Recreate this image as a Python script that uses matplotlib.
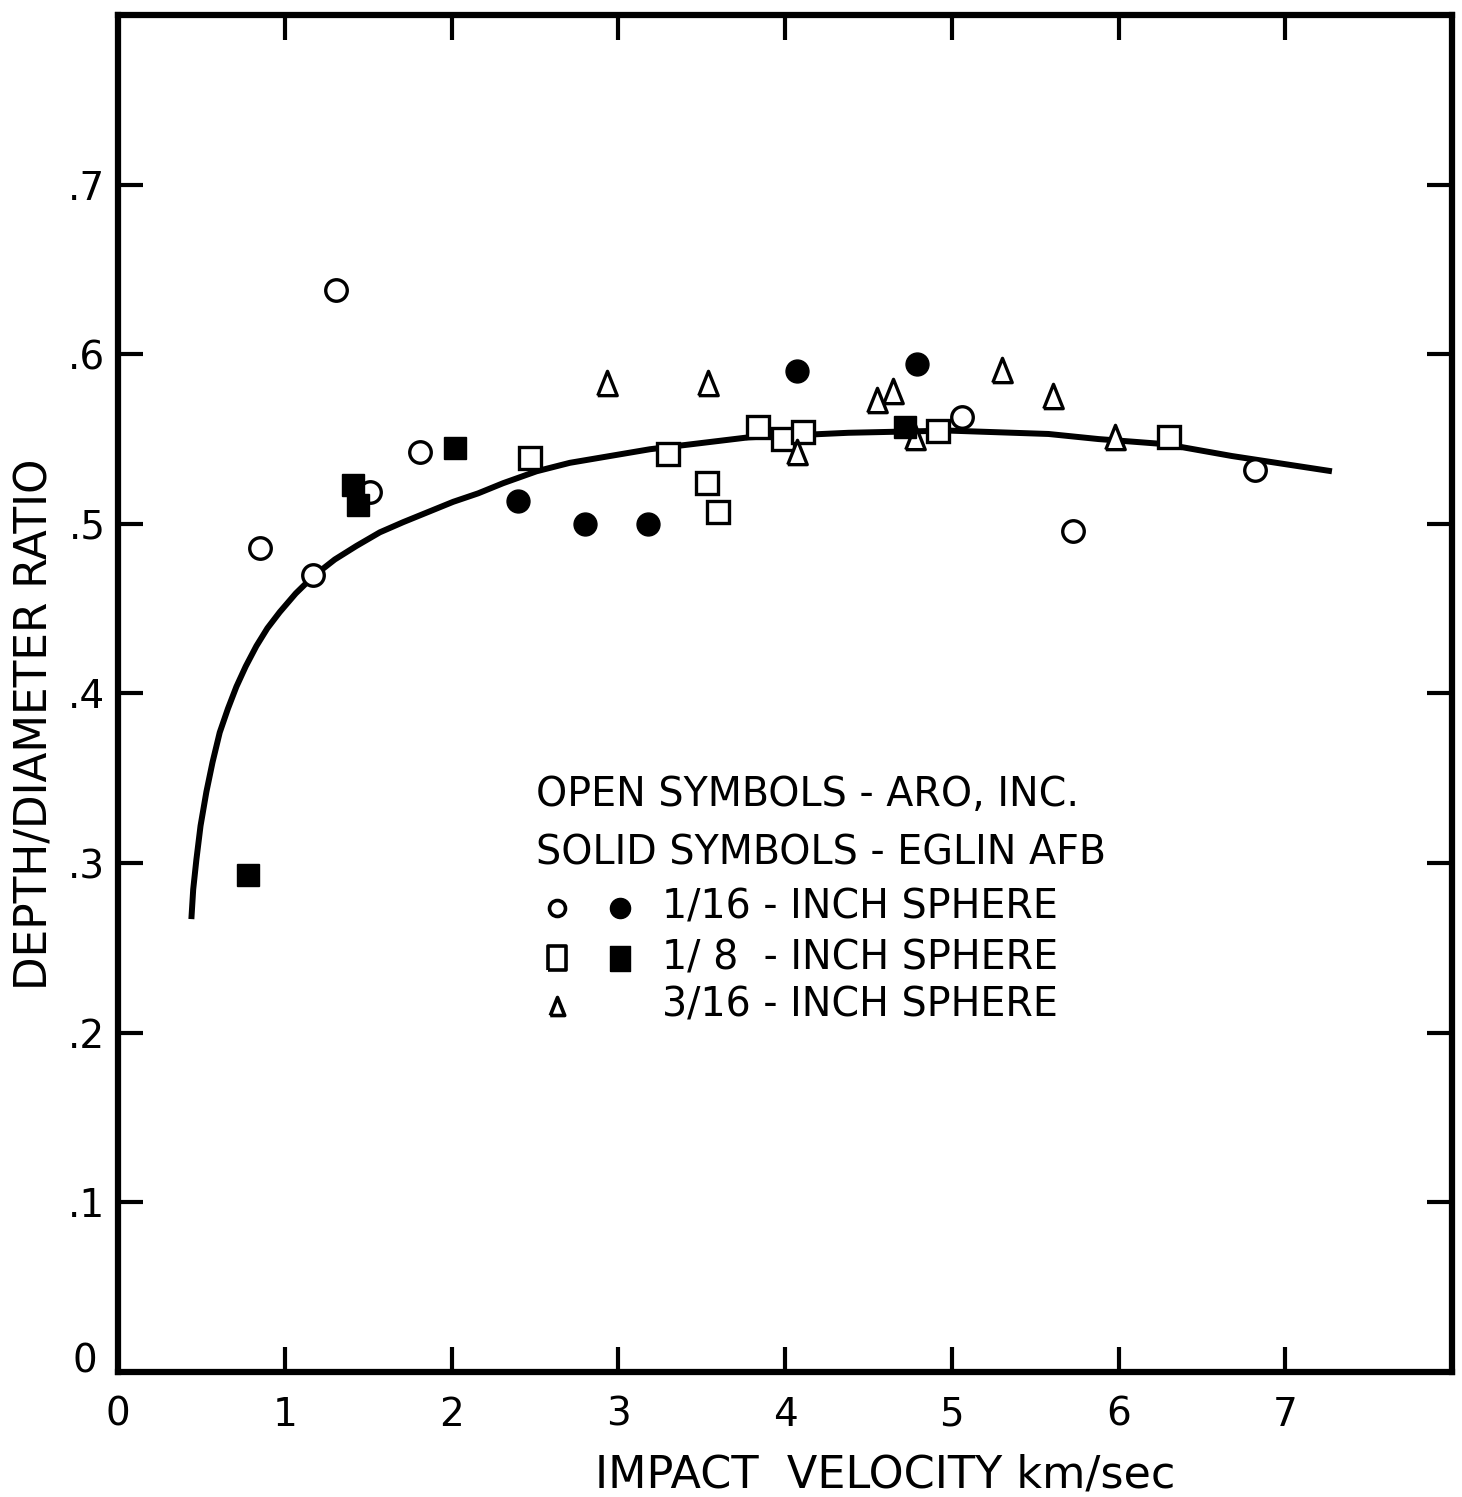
import matplotlib
matplotlib.use("Agg")
import matplotlib.pyplot as plt

# ---- data ----
# open circles: 1/16-inch sphere, ARO Inc.
aro_116_x = [0.85, 1.17, 1.31, 1.81, 1.51, 5.06, 5.73, 6.82]
aro_116_y = [0.486, 0.470, 0.638, 0.5425, 0.519, 0.563, 0.496, 0.532]
# solid circles: 1/16-inch sphere, Eglin AFB
eglin_116_x = [2.40, 2.80, 3.18, 4.07, 4.79]
eglin_116_y = [0.5136, 0.500, 0.500, 0.590, 0.594]
# open squares: 1/8-inch sphere, ARO Inc.
aro_18_x = [2.47, 3.30, 3.53, 3.60, 3.84, 3.99, 4.11, 4.92, 6.30]
aro_18_y = [0.539, 0.541, 0.524, 0.507, 0.557, 0.550, 0.554, 0.555, 0.551]
# solid squares: 1/8-inch sphere, Eglin AFB
eglin_18_x = [0.78, 1.41, 1.44, 2.02, 4.72]
eglin_18_y = [0.293, 0.523, 0.511, 0.545, 0.557]
# open triangles: 3/16-inch sphere, ARO Inc.
aro_316_x = [2.93, 3.54, 4.07, 4.55, 4.65, 4.78, 5.30, 5.61, 5.98]
aro_316_y = [0.583, 0.583, 0.5425, 0.573, 0.5785, 0.551, 0.591, 0.5755, 0.551]
# fitted curve
curve_x = [0.44, 0.451, 0.47, 0.495, 0.53, 0.567, 0.61, 0.659, 0.71, 0.766, 0.83,
           0.896, 0.97, 1.066, 1.17, 1.30, 1.43, 1.57, 1.71, 1.86, 2.01, 2.16,
           2.31, 2.51, 2.71, 3.19, 3.78, 4.38, 4.98, 5.28, 5.58, 5.88, 6.28,
           6.68, 7.28]
curve_y = [0.267, 0.2845, 0.302, 0.322, 0.342, 0.3595, 0.377, 0.391, 0.404, 0.416,
           0.428, 0.4385, 0.448, 0.459, 0.469, 0.479, 0.487, 0.495, 0.501, 0.507,
           0.513, 0.518, 0.524, 0.531, 0.536, 0.544, 0.551, 0.5537, 0.555, 0.554,
           0.553, 0.550, 0.547, 0.540, 0.531]

x_ticks = [0, 1, 2, 3, 4, 5, 6, 7]
x_tick_labels = ["0", "1", "2", "3", "4", "5", "6", "7"]
y_ticks = [0, 0.1, 0.2, 0.3, 0.4, 0.5, 0.6, 0.7]
y_tick_labels = ["0", ".1", ".2", ".3", ".4", ".5", ".6", ".7"]

legend_lines = ["OPEN SYMBOLS - ARO, INC.", "SOLID SYMBOLS - EGLIN AFB"]
legend_rows = ["1/16 - INCH SPHERE", "1/ 8  - INCH SPHERE", "3/16 - INCH SPHERE"]

plt.rcParams['font.family'] = ['DejaVu Sans']

tri = [(-0.4, -0.5), (0.4, -0.5), (0.0, 0.5), (-0.4, -0.5)]
rect = [(-0.4, -0.5), (0.4, -0.5), (0.4, 0.5), (-0.4, 0.5), (-0.4, -0.5)]

fig = plt.figure(figsize=(14.62, 14.97), dpi=100)
ax = fig.add_axes([118/1462, 125/1497, 1334/1462, 1357/1497])

ax.plot(curve_x, curve_y, color='black', lw=4.3, solid_capstyle='butt',
        solid_joinstyle='round', zorder=2)

mk = dict(linestyle='none', zorder=3)
ax.plot(aro_116_x, aro_116_y, marker='o', ms=15.5, mfc='white', mec='black', mew=2.4, **mk)
ax.plot(aro_18_x, aro_18_y, marker='s', ms=15.5, mfc='white', mec='black', mew=2.4, **mk)
ax.plot(aro_316_x, aro_316_y, marker=tri, ms=17.5, mfc='white', mec='black', mew=2.4, **mk)
ax.plot(eglin_116_x, eglin_116_y, marker='o', ms=16.5, mfc='black', mec='black', mew=1, **mk)
ax.plot(eglin_18_x, eglin_18_y, marker='s', ms=15.5, mfc='black', mec='black', mew=1, **mk)

ax.set_xlim(0, 8)
ax.set_ylim(0, 0.8)

for s in ax.spines.values():
    s.set_linewidth(4.5)

ax.set_xticks(x_ticks)
ax.set_xticklabels(x_tick_labels)
ax.set_yticks(y_ticks[1:])
ax.set_yticklabels(y_tick_labels[1:])
ax.tick_params(direction='in', length=18, width=3, labelsize=28, top=True, right=True,
               labeltop=False, labelright=False)
ax.tick_params(axis='x', pad=17)
ax.tick_params(axis='y', pad=9)

# zero label of y axis, sitting just above the corner
ax.text(-0.025, 0.0074, y_tick_labels[0], transform=ax.transAxes, ha='center',
        va='center', fontsize=28)

ax.set_xlabel("IMPACT  VELOCITY km/sec", fontsize=32)
ax.xaxis.set_label_coords(0.575, -0.060)
ax.set_ylabel("DEPTH/DIAMETER RATIO", fontsize=31.5)
ax.yaxis.set_label_coords(-0.046, 0.477)

# legend block
fs = 28.5
ax.text(0.313, 0.425, legend_lines[0], transform=ax.transAxes, ha='left', va='center', fontsize=fs)
ax.text(0.313, 0.382, legend_lines[1], transform=ax.transAxes, ha='left', va='center', fontsize=fs)
row_y = [0.342, 0.305, 0.270]
for yy, lab in zip(row_y, legend_rows):
    ax.text(0.408, yy, lab, transform=ax.transAxes, ha='left', va='center', fontsize=fs)
lk = dict(transform=ax.transAxes, linestyle='none', clip_on=False)
ax.plot([0.329], [row_y[0]], marker='o', ms=11.5, mfc='white', mec='black', mew=2.6, **lk)
ax.plot([0.376], [row_y[0]], marker='o', ms=14.5, mfc='black', mec='black', **lk)
ax.plot([0.329], [row_y[1]], marker=rect, ms=17, mfc='white', mec='black', mew=2.6, **lk)
ax.plot([0.376], [row_y[1]], marker=rect, ms=18, mfc='black', mec='black', **lk)
ax.plot([0.329], [row_y[2]], marker=tri, ms=13, mfc='white', mec='black', mew=2.6, **lk)

fig.savefig("out.png", dpi=100, facecolor='white')
